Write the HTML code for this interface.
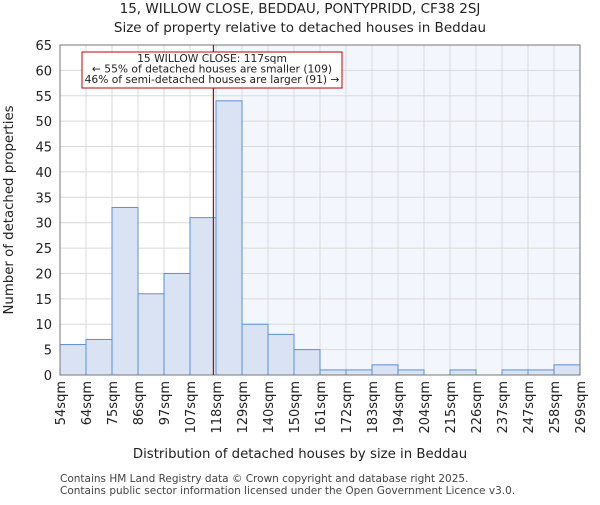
<!DOCTYPE html>
<html><head><meta charset="utf-8"><style>
body{margin:0;background:#fff;}
svg{font-family:"DejaVu Sans","Liberation Sans",sans-serif;}
</style></head><body>
<svg id="chart" width="600" height="500" xmlns="http://www.w3.org/2000/svg">
<text x="300" y="13" text-anchor="middle" font-size="13.5" fill="#222">15, WILLOW CLOSE, BEDDAU, PONTYPRIDD, CF38 2SJ</text>
<text x="300" y="32" text-anchor="middle" font-size="13.5" fill="#222">Size of property relative to detached houses in Beddau</text>
<g id="plot"></g>
<text x="300" y="458" text-anchor="middle" font-size="13.3" fill="#222">Distribution of detached houses by size in Beddau</text>
<text transform="translate(13,210) rotate(-90)" text-anchor="middle" font-size="13.3" fill="#222">Number of detached properties</text>
<text x="60" y="482" font-size="10.5" fill="#444">Contains HM Land Registry data © Crown copyright and database right 2025.</text>
<text x="60" y="494" font-size="10.5" fill="#444">Contains public sector information licensed under the Open Government Licence v3.0.</text>
</svg>
<script>
const binLabels=["54sqm","64sqm","75sqm","86sqm","97sqm","107sqm","118sqm","129sqm","140sqm","150sqm","161sqm","172sqm","183sqm","194sqm","204sqm","215sqm","226sqm","237sqm","247sqm","258sqm","269sqm"];
const counts=[6,7,33,16,20,31,54,10,8,5,1,1,2,1,0,1,0,1,1,2];
const yTicks=[0,5,10,15,20,25,30,35,40,45,50,55,60,65];
const markerBin=5.9;
const NS="http://www.w3.org/2000/svg";
const L=60,R=580,T=45,B=375,YMAX=65;
const n=counts.length;
const x=i=>L+(R-L)*i/n;
const y=v=>B-(B-T)*v/YMAX;
const g=document.getElementById('plot');
function mk(t,a){const e=document.createElementNS(NS,t);for(const k in a)e.setAttribute(k,a[k]);g.appendChild(e);return e;}
let e;
e=mk('rect',{x:x(markerBin),y:T,width:R-x(markerBin),height:B-T,fill:'#f3f6fd'});


yTicks.forEach(v=>{
 e=mk('line',{x1:L,x2:R,y1:y(v),y2:y(v),stroke:'#dadada','stroke-width':1});
 
 
 e=mk('text',{x:L-8,y:y(v)+5,'text-anchor':'end','font-size':13,fill:'#222'});e.textContent=v;
 
 
});
binLabels.forEach((s,i)=>{
 e=mk('line',{x1:x(i),x2:x(i),y1:T,y2:B,stroke:'#dadada','stroke-width':1});
 
 
 const t=mk('text',{transform:`translate(${x(i)+5},${B+6}) rotate(-90)`,'text-anchor':'end','font-size':13,fill:'#222'});t.textContent=s;
 
 
});
counts.forEach((c,i)=>{
 if(c<=0)return;
 e=mk('rect',{x:x(i),y:y(c),width:x(i+1)-x(i),height:B-y(c),fill:'#dae3f3',stroke:'#5b8fd6','stroke-width':1});
 
 
});
e=mk('rect',{x:L,y:T,width:R-L,height:B-T,fill:'none',stroke:'#777','stroke-width':1});


e=mk('line',{x1:x(markerBin),x2:x(markerBin),y1:T,y2:B,stroke:'#c00000','stroke-width':1.2});


e=mk('rect',{x:82,y:52,width:260,height:36,fill:'#fff',stroke:'#c00000','stroke-width':1});


["15 WILLOW CLOSE: 117sqm","← 55% of detached houses are smaller (109)","46% of semi-detached houses are larger (91) →"].forEach((s,k)=>{
 const t=mk('text',{x:212,y:62+k*10.5,'text-anchor':'middle','font-size':10.7,fill:'#222'});t.textContent=s;
 
 
});
</script>
</body></html>
